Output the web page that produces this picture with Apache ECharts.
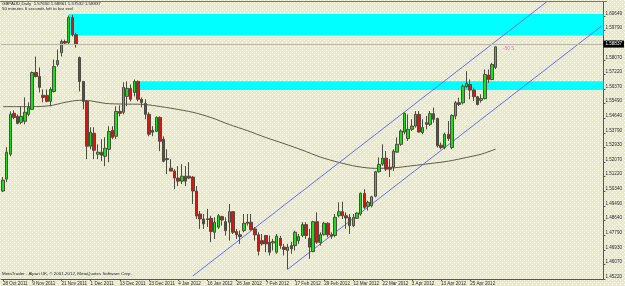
<!DOCTYPE html>
<html><head><meta charset="utf-8">
<script src="https://cdn.jsdelivr.net/npm/echarts@6/dist/echarts.min.js"></script>
<style>html,body{margin:0;padding:0;background:#eeedc4}#c{width:625px;height:286px}</style>
</head><body><div id="c"></div>
<script>
const symbolName = 'GBPAUD,Daily';
const timerText = '50 minutes 6 seconds left to bar end';
const footerText = 'MetaTrader - Alpari UK, \u00a9 2001-2012, MetaQuotes Software Corp.';
const spreadText = '-50 S';
const dateLabels = ['28 Oct 2011','9 Nov 2011','21 Nov 2011','1 Dec 2011','13 Dec 2011','23 Dec 2011','4 Jan 2012','16 Jan 2012','26 Jan 2012','7 Feb 2012','17 Feb 2012','29 Feb 2012','12 Mar 2012','22 Mar 2012','3 Apr 2012','13 Apr 2012','25 Apr 2012'];
const barsPerLabel = 8;
const slotCount = 165;
// [open, close, low, high]
const candles = [
[1.5038,1.5102,1.5032,1.5120],[1.5108,1.5266,1.5090,1.5295],[1.5254,1.5488,1.5242,1.5505],[1.5494,1.5470,1.5459,1.5511],
[1.5476,1.5435,1.5429,1.5488],[1.5441,1.5476,1.5429,1.5535],[1.5447,1.5500,1.5429,1.5587],[1.5488,1.5529,1.5476,1.5558],
[1.5517,1.5733,1.5517,1.5739],[1.5733,1.5710,1.5704,1.5827],[1.5710,1.5646,1.5616,1.5763],[1.5599,1.5587,1.5558,1.5634],
[1.5599,1.5564,1.5558,1.5634],[1.5564,1.5634,1.5535,1.5646],[1.5622,1.5768,1.5616,1.5809],[1.5780,1.5803,1.5768,1.5868],
[1.5850,1.5915,1.5827,1.5926],[1.5915,1.5906,1.5897,1.5926],[1.5909,1.6055,1.5897,1.6067],[1.6055,1.5955,1.5944,1.6072],
[1.5955,1.5897,1.5879,1.5967],[1.5821,1.5681,1.5622,1.5827],[1.5681,1.5564,1.5517,1.5681],[1.5564,1.5301,1.5225,1.5564],
[1.5301,1.5383,1.5283,1.5412],[1.5377,1.5277,1.5225,1.5412],[1.5254,1.5266,1.5225,1.5312],[1.5266,1.5248,1.5213,1.5342],
[1.5242,1.5289,1.5184,1.5353],[1.5283,1.5388,1.5207,1.5418],[1.5394,1.5353,1.5342,1.5418],[1.5359,1.5505,1.5342,1.5535],
[1.5505,1.5494,1.5476,1.5540],[1.5500,1.5646,1.5488,1.5675],[1.5593,1.5640,1.5535,1.5681],[1.5640,1.5576,1.5564,1.5663],
[1.5616,1.5681,1.5593,1.5692],[1.5681,1.5576,1.5564,1.5687],[1.5576,1.5558,1.5529,1.5587],[1.5552,1.5488,1.5459,1.5576],
[1.5488,1.5371,1.5359,1.5500],[1.5394,1.5383,1.5359,1.5418],[1.5388,1.5470,1.5383,1.5476],[1.5470,1.5330,1.5272,1.5476],
[1.5342,1.5213,1.5207,1.5359],[1.5228,1.5222,1.5137,1.5283],[1.5172,1.5155,1.5155,1.5225],[1.5155,1.5114,1.5049,1.5166],
[1.5114,1.5096,1.5067,1.5184],[1.5096,1.5125,1.5079,1.5196],[1.5125,1.5096,1.5067,1.5184],[1.5125,1.5114,1.5108,1.5207],
[1.5120,1.5038,1.4962,1.5125],[1.5038,1.4892,1.4874,1.5067],[1.4903,1.4874,1.4816,1.4921],[1.4874,1.4845,1.4816,1.4903],
[1.4871,1.4875,1.4827,1.4933],[1.4878,1.4800,1.4738,1.4893],[1.4796,1.4855,1.4757,1.4884],[1.4826,1.4893,1.4816,1.4903],
[1.4888,1.4868,1.4835,1.4893],[1.4858,1.4806,1.4777,1.4884],[1.4855,1.4917,1.4747,1.4962],[1.4917,1.4796,1.4786,1.4917],
[1.4800,1.4782,1.4757,1.4816],[1.4781,1.4771,1.4728,1.4806],[1.4806,1.4849,1.4796,1.4903],[1.4855,1.4849,1.4835,1.4903],
[1.4855,1.4812,1.4806,1.4903],[1.4816,1.4781,1.4747,1.4827],[1.4781,1.4685,1.4660,1.4796],[1.4747,1.4728,1.4718,1.4786],
[1.4777,1.4728,1.4679,1.4777],[1.4738,1.4679,1.4660,1.4777],[1.4734,1.4741,1.4689,1.4757],[1.4679,1.4773,1.4670,1.4786],
[1.4761,1.4718,1.4699,1.4775],[1.4709,1.4695,1.4660,1.4728],[1.4689,1.4709,1.4579,1.4728],[1.4718,1.4699,1.4670,1.4740],
[1.4718,1.4796,1.4689,1.4806],[1.4747,1.4771,1.4728,1.4786],[1.4777,1.4841,1.4767,1.4855],[1.4841,1.4777,1.4757,1.4855],
[1.4761,1.4709,1.4640,1.4816],[1.4683,1.4858,1.4679,1.4864],[1.4858,1.4738,1.4728,1.4913],[1.4734,1.4782,1.4718,1.4796],
[1.4782,1.4849,1.4777,1.4858],[1.4849,1.4781,1.4767,1.4855],[1.4782,1.4773,1.4757,1.4796],[1.4777,1.4884,1.4767,1.4903],
[1.4893,1.4917,1.4884,1.4972],[1.4917,1.4893,1.4874,1.4975],[1.4893,1.4880,1.4816,1.4913],[1.4884,1.4835,1.4786,1.4903],
[1.4835,1.4884,1.4826,1.4903],[1.4878,1.4909,1.4874,1.4913],[1.4903,1.5024,1.4893,1.5030],[1.5024,1.4942,1.4933,1.5049],
[1.4948,1.4972,1.4923,1.4981],[1.4952,1.5004,1.4942,1.5010],[1.5007,1.5151,1.5001,1.5156],[1.5151,1.5194,1.5147,1.5235],
[1.5196,1.5231,1.5186,1.5312],[1.5231,1.5166,1.5156,1.5273],[1.5178,1.5166,1.5120,1.5225],[1.5178,1.5272,1.5156,1.5283],
[1.5266,1.5312,1.5264,1.5352],[1.5312,1.5390,1.5303,1.5400],[1.5384,1.5494,1.5371,1.5498],[1.5346,1.5400,1.5332,1.5488],
[1.5400,1.5419,1.5390,1.5459],[1.5419,1.5488,1.5410,1.5507],[1.5488,1.5384,1.5381,1.5507],[1.5381,1.5410,1.5371,1.5459],
[1.5439,1.5429,1.5400,1.5478],[1.5429,1.5492,1.5419,1.5507],[1.5492,1.5459,1.5439,1.5527],[1.5463,1.5303,1.5293,1.5469],
[1.5307,1.5293,1.5283,1.5322],[1.5293,1.5371,1.5283,1.5381],[1.5371,1.5346,1.5332,1.5449],[1.5293,1.5482,1.5283,1.5488],
[1.5478,1.5556,1.5459,1.5566],[1.5556,1.5546,1.5536,1.5585],[1.5556,1.5653,1.5546,1.5663],[1.5650,1.5669,1.5644,1.5741],
[1.5663,1.5630,1.5576,1.5692],[1.5630,1.5591,1.5566,1.5644],[1.5591,1.5546,1.5540,1.5595],[1.5570,1.5581,1.5556,1.5605],
[1.5580,1.5722,1.5576,1.5751],[1.5718,1.5692,1.5673,1.5751],[1.5692,1.5780,1.5688,1.5790],[1.57630,1.58837,1.57532,1.58861]
];
const maPoints = [[0,1.5533],[8,1.5533],[13,1.5539],[17,1.5558],[21,1.5570],[24,1.5567],[28,1.5552],[33,1.5548],[38,1.5547],[42,1.5537],[47,1.5520],[52,1.5500],[57,1.5469],[62,1.5428],[67,1.5392],[72,1.5352],[77,1.5316],[82,1.5278],[87,1.5237],[92,1.5206],[97,1.5182],[102,1.5171],[107,1.5174],[112,1.5186],[117,1.5199],[122,1.5213],[127,1.5235],[131,1.5254],[135,1.5284]];
const yTickLabels = ['1.45220','1.46070','1.46930','1.47790','1.48640','1.49490','1.50340','1.51220','1.52070','1.52930','1.53790','1.54640','1.55490','1.56370','1.57220','1.58070','1.58940','1.59790','1.60649'];
const yMin = 1.45220, yMax = 1.61468, yStep = 0.008572;
// [startBar, topPrice, bottomPrice]
const zones = [[18,1.6076,1.5951],[37,1.5682,1.5630]];
const channelLower = [[78,1.4579],[164,1.60056]];
const channelUpper = [[52,1.45395],[164,1.63974]];

const last = candles[candles.length - 1];
const headerText = symbolName + '  ' + [last[0], last[3], last[2], last[1]].map(v => v.toFixed(5)).join(' ');
const slots = Array.from({length: slotCount}, (_, i) => 'b' + i);
const isLabelSlot = (i) => i % barsPerLabel === 0 && (i / barsPerLabel) < dateLabels.length;

// dotted background tile
const tile = document.createElement('canvas');
tile.width = 4; tile.height = 4;
const tctx = tile.getContext('2d');
tctx.fillStyle = '#ecebbe'; tctx.fillRect(0, 0, 4, 4);
tctx.fillStyle = '#ffffff'; tctx.fillRect(0, 0, 1, 1); tctx.fillRect(2, 2, 1, 1);

const FONT = 'Liberation Sans';
const chart = echarts.init(document.getElementById('c'), null, {renderer: 'canvas'});
chart.setOption({
  backgroundColor: {image: tile, repeat: 'repeat'},
  animation: false,
  grid: {left: 0, top: 2, width: 607, height: 278, show: false},
  xAxis: {
    type: 'category', data: slots, boundaryGap: true,
    axisLine: {lineStyle: {color: '#55554a', width: 1}},
    axisTick: {show: true, alignWithLabel: true, length: 2, interval: (i) => isLabelSlot(i), lineStyle: {color: '#55554a'}},
    axisLabel: {interval: (i) => isLabelSlot(i), formatter: (v, i) => dateLabels[i / barsPerLabel] || '', align: 'left', fontSize: 4.6, fontFamily: FONT, color: '#2a2a2a', margin: 2},
    splitLine: {show: false}
  },
  yAxis: {
    type: 'value', position: 'right', min: yMin, max: yMax, interval: yStep,
    splitLine: {show: false},
    axisLine: {show: true, lineStyle: {color: '#55554a', width: 1}},
    axisTick: {show: true, length: 2, lineStyle: {color: '#55554a'}},
    axisLabel: {showMaxLabel: false, showMinLabel: true, fontSize: 4.6, fontFamily: FONT, color: '#2a2a2a', margin: 2, verticalAlign: 'bottom',
      formatter: (v) => yTickLabels[Math.round((v - yMin) / yStep)] || ''}
  },
  graphic: [
    {type: 'line', shape: {x1: 0, y1: 1.5, x2: 607, y2: 1.5}, style: {stroke: '#77776a', lineWidth: 1}, z: 100},
    {type: 'text', left: 2, top: 2, style: {text: headerText, font: '4.4px "' + FONT + '"', fill: '#222'}, z: 100},
    {type: 'text', left: 2, top: 7, style: {text: timerText, font: '4.4px "' + FONT + '"', fill: '#222'}, z: 100},
    {type: 'text', left: 2, top: 272, style: {text: footerText, font: '4.4px "' + FONT + '"', fill: '#222'}, z: 100}
  ],
  series: [
    {
      type: 'custom', z: 1, clip: true,
      data: zones,
      encode: {x: 0, y: [1, 2]},
      renderItem: (params, api) => {
        const a = api.coord([api.value(0), api.value(1)]);
        const b = api.coord([api.value(0), api.value(2)]);
        const cs = params.coordSys;
        return {type: 'rect', shape: {x: a[0], y: a[1], width: cs.x + cs.width - a[0], height: b[1] - a[1]}, style: {fill: '#00ffff'}};
      }
    },
    {
      type: 'line', z: 2, data: maPoints, smooth: 0.3, symbol: 'none', clip: true,
      lineStyle: {color: '#5e5b4c', width: 1}
    },
    {
      type: 'line', z: 3, data: channelLower, symbol: 'none', clip: true,
      lineStyle: {color: '#6b6bf0', width: 1}
    },
    {
      type: 'line', z: 3, data: channelUpper, symbol: 'none', clip: true,
      lineStyle: {color: '#6b6bf0', width: 1}
    },
    {
      type: 'candlestick', z: 4, data: candles, barWidth: 3,
      itemStyle: {color: '#19e019', color0: '#e01212', borderColor: '#4c4c40', borderColor0: '#4c4c40', borderWidth: 1},
      markLine: {
        silent: true, symbol: ['none', 'none'],
        data: [{yAxis: last[1]}],
        lineStyle: {color: '#b9b8a4', width: 1, type: 'solid'},
        label: {show: true, position: 'end', distance: 0, formatter: () => last[1].toFixed(5), color: '#ffffff', backgroundColor: '#000000', padding: [1, 2], fontSize: 4.6, fontFamily: FONT}
      },
      markPoint: {
        silent: true, symbol: 'circle', symbolSize: 0,
        data: [{coord: [candles.length - 1, last[1]]}],
        label: {show: true, formatter: spreadText, offset: [13, 2], color: '#ff5fd0', fontSize: 4.6, fontFamily: FONT}
      }
    }
  ]
});
</script></body></html>
